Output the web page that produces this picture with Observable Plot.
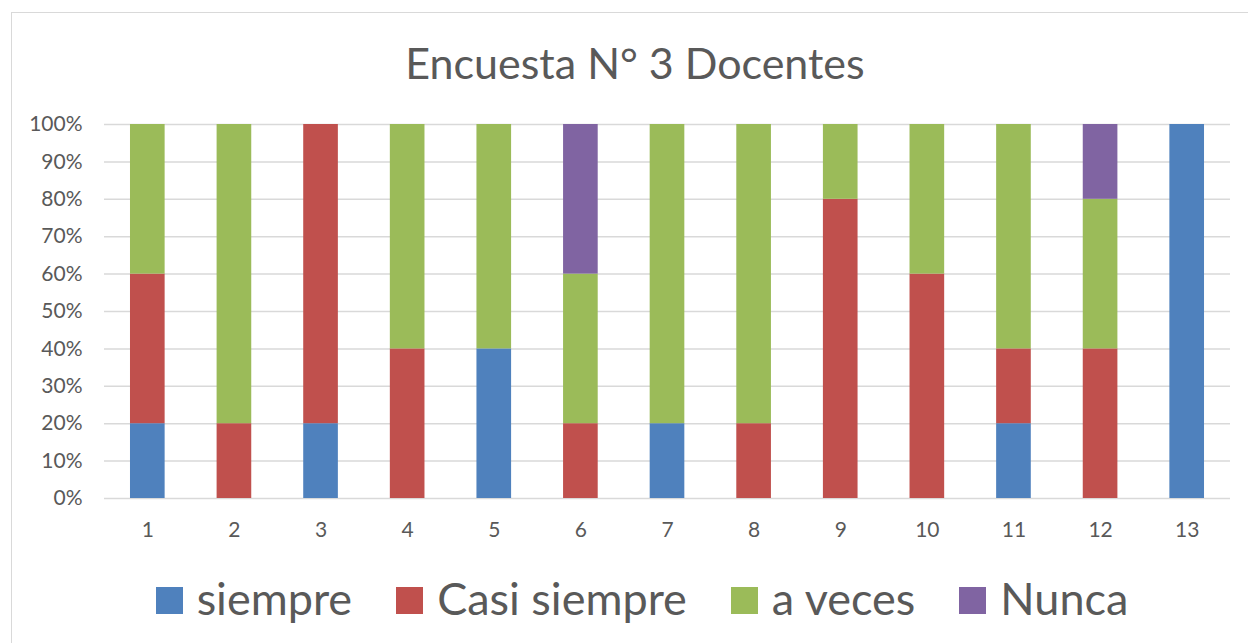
<!DOCTYPE html>
<html>
<head>
<meta charset="utf-8">
<script src="https://cdn.jsdelivr.net/npm/d3@7"></script>
<script src="https://cdn.jsdelivr.net/npm/@observablehq/plot@0.6"></script>
<style>
  html, body { margin: 0; padding: 0; background: #fff; }
  #wrap { position: relative; width: 1248px; height: 643px; overflow: hidden; font-family: Lato, "Open Sans", sans-serif; color: #595959; }
  #frame { position: absolute; left: 11px; top: 12px; width: 1250px; height: 640px; border: 1.5px solid #d9d9d9; box-sizing: border-box; }
  #title { position: absolute; left: 0; width: 1270px; top: 35px; text-align: center; font-size: 43px; line-height: 56px; }
  #chart { position: absolute; left: 0; top: 100px; }
  #legend { position: absolute; left: 7px; width: 1270px; top: 570px; display: flex; justify-content: center; align-items: center; font-size: 45px; line-height: 56px; }
  .item { display: flex; align-items: center; margin: 0 22px; }
  .sw { width: 27px; height: 27px; margin-right: 14px; margin-top: 4px; }
</style>
</head>
<body>
<div id="wrap">
  <div id="frame"></div>
  <div id="title">Encuesta N° 3 Docentes</div>
  <div id="chart"></div>
  <div id="legend"></div>
</div>
<script>
const categories = ["1","2","3","4","5","6","7","8","9","10","11","12","13"];
const seriesNames = ["siempre", "Casi siempre", "a veces", "Nunca"];
const seriesColors = ["#4f81bd", "#c0504d", "#9bbb59", "#8064a2"];
const siempre     = [20, 0, 20, 0, 40, 0, 20, 0, 0, 0, 20, 0, 100];
const casiSiempre = [40, 20, 80, 40, 0, 20, 0, 20, 80, 60, 20, 40, 0];
const aVeces      = [40, 80, 0, 60, 60, 40, 80, 80, 20, 40, 60, 40, 0];
const nunca       = [0, 0, 0, 0, 0, 40, 0, 0, 0, 0, 0, 20, 0];
const yTicks = [0, 0.1, 0.2, 0.3, 0.4, 0.5, 0.6, 0.7, 0.8, 0.9, 1];

const seriesValues = [siempre, casiSiempre, aVeces, nunca];
const data = [];
seriesNames.forEach((s, si) => {
  categories.forEach((c, ci) => {
    data.push({cat: c, series: s, value: seriesValues[si][ci] / 100});
  });
});

const plot = Plot.plot({
  width: 1248,
  height: 450,
  marginTop: 24,
  marginBottom: 52,
  marginLeft: 104,
  marginRight: 18,
  style: {fontFamily: "Lato, 'Open Sans', sans-serif", fontSize: "21px", color: "#595959", background: "transparent"},
  x: {domain: categories, paddingInner: 0.6, paddingOuter: 0.3, round: false, label: null, tickSize: 0, tickPadding: 24},
  y: {domain: [0, 1], ticks: yTicks, tickFormat: d3.format(".0%"), label: null, tickSize: 0, tickPadding: 22},
  color: {domain: seriesNames, range: seriesColors},
  marks: [
    Plot.gridY(yTicks, {stroke: "#d9d9d9", strokeOpacity: 1, strokeWidth: 1.5}),
    Plot.barY(data, Plot.stackY({x: "cat", y: "value", fill: "series", order: seriesNames})),
    Plot.axisY({ticks: yTicks, tickFormat: d3.format(".0%"), tickSize: 0, tickPadding: 22, fontSize: 21, fill: "#595959"}),
    Plot.axisX({tickSize: 0, tickPadding: 24, fontSize: 21, fill: "#595959"})
  ]
});
document.getElementById("chart").appendChild(plot);

const legend = document.getElementById("legend");
seriesNames.forEach((s, i) => {
  const item = document.createElement("div");
  item.className = "item";
  const sw = document.createElement("div");
  sw.className = "sw";
  sw.style.background = seriesColors[i];
  const t = document.createElement("span");
  t.textContent = s;
  item.appendChild(sw);
  item.appendChild(t);
  legend.appendChild(item);
});
</script>
</body>
</html>
